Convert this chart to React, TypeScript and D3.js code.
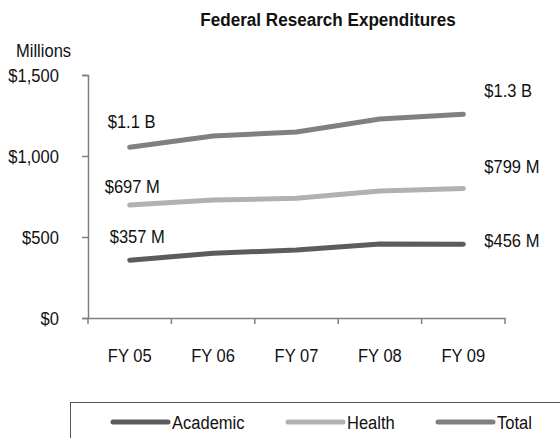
import React, { useEffect, useRef } from 'react';
import * as d3 from 'd3';

const years = ['FY 05', 'FY 06', 'FY 07', 'FY 08', 'FY 09'];
const academic = [357, 399, 420, 457, 456];
const health = [697, 728, 739, 784, 799];
const total = [1054, 1123, 1148, 1228, 1257];
const yTicks = [0, 500, 1000, 1500];
const seriesNames = ['Academic', 'Health', 'Total'];
const startLabels = ['$357 M', '$697 M', '$1.1 B'];
const endLabels = ['$456 M', '$799 M', '$1.3 B'];

const FONT = '"Liberation Sans", Arial, sans-serif';
const SX = 0.87; // squeeze to mimic a narrow face

const App = () => {
  const ref = useRef<SVGSVGElement>(null);

  useEffect(() => {
    const svg = d3.select(ref.current);
    svg.selectAll('*').remove();

    const width = 560, height = 438;
    const x = d3.scaleBand<string>().domain(years).range([88, 505]);
    const y = d3.scaleLinear().domain([0, 1500]).range([318, 75]);
    const colors = ['#5c5c5c', '#b1b1b1', '#808080'];
    const series = [academic, health, total];

    svg.attr('width', width).attr('height', height)
      .style('font-family', FONT);

    // title
    svg.append('text')
      .attr('transform', `translate(328,26) scale(0.9,1)`)
      .attr('text-anchor', 'middle')
      .attr('font-size', 19).attr('font-weight', 'bold')
      .attr('fill', '#111')
      .text('Federal Research Expenditures');

    svg.append('text')
      .attr('transform', `translate(16,57) scale(${SX},1)`)
      .attr('font-size', 19).attr('fill', '#111')
      .text('Millions');

    // y axis
    const yAxis = svg.append('g')
      .attr('transform', 'translate(88,0)')
      .call(d3.axisLeft(y).tickValues(yTicks).tickSize(6).tickPadding(27.5)
        .tickFormat(d => '$' + d3.format(',')(d as number)));
    yAxis.select('.domain').attr('stroke', '#808080').attr('stroke-width', 1.5);
    yAxis.selectAll('.tick line').attr('stroke', '#808080').attr('stroke-width', 1.5);
    yAxis.selectAll('.tick text')
      .attr('font-size', 19).attr('fill', '#111').attr('font-family', FONT)
      .attr('transform', `scale(${SX},1)`);

    // x axis
    const xAxis = svg.append('g')
      .attr('transform', 'translate(0,318)')
      .call(d3.axisBottom(x).tickSize(0).tickPadding(30.5));
    xAxis.select('.domain').attr('stroke', '#808080').attr('stroke-width', 1.5);
    xAxis.selectAll('.tick text')
      .attr('font-size', 19).attr('fill', '#111').attr('font-family', FONT)
      .attr('transform', `scale(${SX},1)`);
    xAxis.selectAll('.sep')
      .data(years.concat(['end']))
      .join('line')
        .attr('class', 'sep')
        .attr('x1', (d, i) => i < years.length ? x(d)! : x.range()[1])
        .attr('x2', (d, i) => i < years.length ? x(d)! : x.range()[1])
        .attr('y1', 0).attr('y2', 6)
        .attr('stroke', '#808080').attr('stroke-width', 1.5);

    const cx = (i: number) => x(years[i])! + x.bandwidth() / 2;
    const line = d3.line<number>()
      .x((d, i) => cx(i))
      .y(d => y(d));

    svg.selectAll('.series')
      .data(series)
      .join('path')
        .attr('class', 'series')
        .attr('d', d => line(d))
        .attr('fill', 'none')
        .attr('stroke', (d, i) => colors[i])
        .attr('stroke-width', 5)
        .attr('stroke-linecap', 'round')
        .attr('stroke-linejoin', 'round');

    // value labels
    const startDx = [-20, -25, -22];
    const startDy = [-17, -12, -19];
    const endDy = [3, -16, -17];
    const last = years.length - 1;
    svg.selectAll('.startLabel')
      .data(series)
      .join('text')
        .attr('class', 'startLabel')
        .attr('transform', (d, i) =>
          `translate(${cx(0) + startDx[i]},${y(d[0]) + startDy[i]}) scale(${SX},1)`)
        .attr('font-size', 19).attr('fill', '#111')
        .text((d, i) => startLabels[i]);
    svg.selectAll('.endLabel')
      .data(series)
      .join('text')
        .attr('class', 'endLabel')
        .attr('transform', (d, i) =>
          `translate(${cx(last) + 21},${y(d[last]) + endDy[i]}) scale(${SX},1)`)
        .attr('font-size', 19).attr('fill', '#111')
        .text((d, i) => endLabels[i]);

    // legend
    const legend = svg.append('g');
    legend.append('rect')
      .attr('x', 70.5).attr('y', 402.5)
      .attr('width', 520).attr('height', 60)
      .attr('fill', 'none').attr('stroke', '#555').attr('stroke-width', 1);
    const legendX = [113, 288, 438];
    const item = legend.selectAll('.item')
      .data(seriesNames)
      .join('g')
        .attr('class', 'item')
        .attr('transform', (d, i) => `translate(${legendX[i]},422)`);
    item.append('line')
      .attr('x1', 0).attr('x2', 55)
      .attr('stroke', (d, i) => colors[i])
      .attr('stroke-width', 5)
      .attr('stroke-linecap', 'round');
    item.append('text')
      .attr('transform', `translate(59,6.5) scale(${SX},1)`)
      .attr('font-size', 19).attr('fill', '#111')
      .text(d => d);
  }, []);

  return (
    <svg ref={ref} width={560} height={438} style={{ position: 'absolute', left: 0, top: 0 }}></svg>
  );
};

export default App;
